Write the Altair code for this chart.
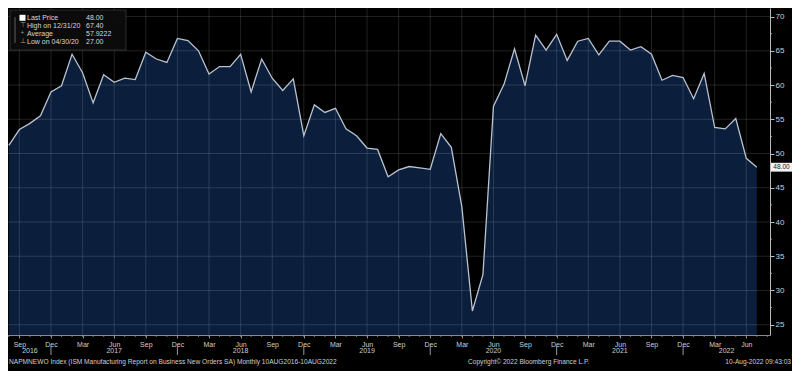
import altair as alt
import pandas as pd

# ---- data (month-end values, Aug 2016 .. Jul 2022) ----
values = [51.2, 53.5, 54.4, 55.5, 59.0,
          59.9, 64.5, 61.8, 57.4, 61.5, 60.4, 61.0, 60.8, 64.8, 63.8, 63.3, 66.8,
          66.5, 65.0, 61.6, 62.7, 62.7, 64.5, 59.0, 63.8, 61.0, 59.2, 60.9, 52.6,
          57.1, 56.0, 56.6, 53.6, 52.6, 50.8, 50.6, 46.6, 47.6, 48.1, 47.9, 47.7,
          52.9, 50.9, 42.2, 27.0, 32.3, 56.9, 60.1, 65.3, 59.9, 67.3, 65.1, 67.4,
          63.6, 66.4, 66.8, 64.4, 66.4, 66.4, 65.1, 65.6, 64.5, 60.7, 61.4, 61.1,
          58.0, 61.7, 53.8, 53.6, 55.1, 49.3, 48.0]
month_names = ["Jan", "Feb", "Mar", "Apr", "May", "Jun",
               "Jul", "Aug", "Sep", "Oct", "Nov", "Dec"]
start_month = 7  # Aug
years = ["2016", "2017", "2018", "2019", "2020", "2021", "2022"]
y_ticks = [25, 30, 35, 40, 45, 50, 55, 60, 65, 70]
legend_labels = ["Last Price", "High on 12/31/20", "Average", "Low on 04/30/20"]
legend_values = ["48.00", "67.40", "57.9222", "27.00"]
last_label = "48.00"
footer_left = "NAPMNEWO Index (ISM Manufacturing Report on Business New Orders SA)  Monthly 10AUG2016-10AUG2022"
footer_mid = "Copyright\u00a9 2022 Bloomberg Finance L.P."
footer_right = "10-Aug-2022 09:43:03"

W, H = 762, 327
X_DOM = [-0.08, 72.25]
Y_DOM = [23.5, 71.25]

idx = list(range(len(values)))
df = pd.DataFrame({"i": idx, "v": values})
quarter_idx = [i for i in range(73) if (i + start_month) % 12 in (2, 5, 8, 11)]
dec_idx = [i for i in range(73) if (i + start_month) % 12 == 11 and i < len(values)]
bounds = [0] + dec_idx + [X_DOM[1]]
year_pos = [(bounds[k] + bounds[k + 1]) / 2 for k in range(len(years))]
df_years = pd.DataFrame({"i": year_pos, "year": years})
df_q = pd.DataFrame({"i": quarter_idx})
df_dec = pd.DataFrame({"i": dec_idx})
df_months = pd.DataFrame({"i": list(range(73))})
df_hgrid = pd.DataFrame({"v": y_ticks})
df_minor = pd.DataFrame({"v": [t + 2.5 for t in y_ticks[:-1]]})
df_last = pd.DataFrame({"v": [values[-1]], "t": [last_label]})
df_one = pd.DataFrame({"a": [0]})
df_leg = pd.DataFrame({"lab": ["\n".join(legend_labels)], "val": ["\n".join(legend_values)]})

FONT = "Liberation Sans"
GRID = dict(stroke="#ffffff", strokeOpacity=0.13, strokeWidth=1)

label_expr = ("['Jan','Feb','Mar','Apr','May','Jun','Jul','Aug','Sep','Oct','Nov','Dec']"
              "[(datum.value + %d) %% 12]" % start_month)

X_AX = alt.Axis(values=quarter_idx, labelExpr=label_expr, grid=False,
                domain=True, domainColor="#8a8a8a", ticks=True, tickSize=3,
                tickColor="#8a8a8a", labelColor="#cfcfcf", labelFontSize=7,
                labelFont=FONT, labelPadding=2, labelFlush=False, labelOverlap=False)
Y_AX = alt.Axis(orient="right", values=y_ticks, grid=False, domain=True,
                domainColor="#bbbbbb", ticks=True, tickSize=4, tickColor="#bbbbbb",
                labelColor="#cfcfcf", labelFontSize=8, labelFont=FONT,
                labelPadding=1, labelOverlap=False)


def X(field):
    return alt.X(field, scale=alt.Scale(domain=X_DOM, nice=False, zero=False),
                 title=None, axis=X_AX)


def Y(field):
    return alt.Y(field, scale=alt.Scale(domain=Y_DOM, nice=False, zero=False),
                 title=None, axis=Y_AX)


area = alt.Chart(df).mark_area(color="#0b1f3d", opacity=1, clip=True).encode(
    x=X("i:Q"), y=Y("v:Q"), y2=alt.datum(Y_DOM[0]))

vgrid = alt.Chart(df_q).mark_rule(**GRID).encode(
    x=X("i:Q"), y=alt.value(0), y2=alt.value(H))
hgrid = alt.Chart(df_hgrid).mark_rule(**GRID).encode(
    y=Y("v:Q"), x=alt.value(0), x2=alt.value(W))

line = alt.Chart(df).mark_line(color="#b9c3cf", strokeWidth=1.3).encode(
    x=X("i:Q"), y=Y("v:Q"))

mticks = alt.Chart(df_months).mark_rule(stroke="#8a8a8a", strokeWidth=0.8).encode(
    x=X("i:Q"), y=alt.value(H), y2=alt.value(H + 2))
seps = alt.Chart(df_dec).mark_rule(stroke="#9a9a9a", strokeWidth=1).encode(
    x=X("i:Q"), y=alt.value(H + 11), y2=alt.value(H + 20))
ylabels = alt.Chart(df_years).mark_text(color="#cfcfcf", fontSize=7, font=FONT,
                                         baseline="middle").encode(
    x=X("i:Q"), y=alt.value(H + 16), text="year:N")

yminor = alt.Chart(df_minor).mark_rule(stroke="#bbbbbb", strokeWidth=0.8).encode(
    y=Y("v:Q"), x=alt.value(W), x2=alt.value(W + 2))

tag = alt.Chart(df_last).mark_point(
    shape="M-1,-0.42L1,-0.42L1,0.42L-1,0.42Z", filled=True, color="#f2f2f2",
    opacity=1, size=441).encode(
    x=alt.value(W + 11.5), y=Y("v:Q"))
tag_text = alt.Chart(df_last).mark_text(color="#222222", fontSize=6.5, font=FONT,
                                         baseline="middle").encode(
    x=alt.value(W + 11.5), y=Y("v:Q"), text="t:N")

leg_box = alt.Chart(df_one).mark_rect(fill="#0c0c0c", stroke="#4a4a4a",
                                      strokeWidth=0.6, opacity=0.95).encode(
    x=alt.value(2), x2=alt.value(118), y=alt.value(2), y2=alt.value(42))
leg_tree = alt.Chart(df_one).mark_rule(stroke="#777777", strokeWidth=0.8).encode(
    x=alt.value(7), y=alt.value(9), y2=alt.value(35))
leg_sq = alt.Chart(df_one).mark_point(shape="square", filled=True, color="#ffffff",
                                      opacity=1, size=36).encode(
    x=alt.value(14.5), y=alt.value(9.8))
leg_icons = alt.Chart(pd.DataFrame({"t": [" \n\u22a4\n+\n\u22a5"]})).mark_text(
    color="#9a9a9a", fontSize=6.5, font=FONT, align="center", baseline="top",
    lineBreak="\n", lineHeight=8.1).encode(
    x=alt.value(14.5), y=alt.value(6), text="t:N")
leg_lab = alt.Chart(df_leg).mark_text(
    color="#d8d8d8", fontSize=7, font=FONT, align="left", baseline="top",
    lineBreak="\n", lineHeight=8.1).encode(
    x=alt.value(19), y=alt.value(6), text="lab:N")
leg_val = alt.Chart(df_leg).mark_text(
    color="#d8d8d8", fontSize=7, font=FONT, align="left", baseline="top",
    lineBreak="\n", lineHeight=8.1).encode(
    x=alt.value(78), y=alt.value(6), text="val:N")

foot_l = alt.Chart(pd.DataFrame({"t": [footer_left]})).mark_text(
    color="#cfcfcf", fontSize=6.6, font=FONT, align="left", baseline="middle").encode(
    x=alt.value(1), y=alt.value(H + 27), text="t:N")
foot_m = alt.Chart(pd.DataFrame({"t": [footer_mid]})).mark_text(
    color="#cfcfcf", fontSize=6.6, font=FONT, align="left", baseline="middle").encode(
    x=alt.value(460), y=alt.value(H + 27), text="t:N")
foot_r = alt.Chart(pd.DataFrame({"t": [footer_right]})).mark_text(
    color="#cfcfcf", fontSize=6.6, font=FONT, align="right", baseline="middle").encode(
    x=alt.value(W + 21), y=alt.value(H + 27), text="t:N")

chart = alt.layer(
    area, vgrid, hgrid, line, mticks, seps, ylabels, yminor, tag, tag_text,
    leg_box, leg_tree, leg_sq, leg_icons, leg_lab, leg_val, foot_l, foot_m, foot_r
).properties(
    width=W, height=H, background="#000000",
    padding={"left": 0, "top": 0, "right": 22, "bottom": 36},
    autosize=alt.AutoSizeParams(type="none"),
).configure_view(stroke=None)

chart.save("out.html", embed_options={"renderer": "svg", "actions": False})
